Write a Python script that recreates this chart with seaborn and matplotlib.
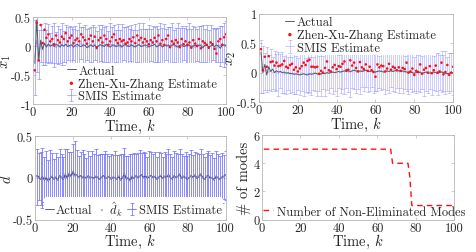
import numpy as np
import pandas as pd
import matplotlib
matplotlib.use('Agg')
import matplotlib.pyplot as plt
import seaborn as sns

# ---- data ----
x1_actual = [-0.30, 0.45, -0.25, 0.10, -0.06, 0.05, -0.02, 0.03, 0.00, 0.02,
             -0.01, 0.03, 0.01, -0.02, 0.02, 0.00, 0.03, -0.01, 0.01, 0.02,
             -0.02, 0.01, 0.03, 0.00, -0.01, 0.02, 0.01, -0.03, 0.00, 0.02,
             -0.01, 0.01, -0.02, 0.00, 0.02, 0.01, -0.01, 0.03, 0.00, -0.02,
             0.01, 0.02, -0.01, 0.00, 0.02, -0.02, 0.01, 0.03, 0.00, -0.01,
             0.02, 0.00, -0.02, 0.01, 0.02, -0.01, 0.00, 0.02, 0.01, -0.02,
             0.00, 0.01, 0.03, -0.01, 0.00, 0.02, -0.02, 0.01, 0.00, 0.02,
             -0.01, 0.01, 0.03, 0.00, -0.02, 0.01, 0.02, -0.01, 0.00, 0.02,
             0.01, -0.02, 0.00, 0.01, -0.01, 0.02, 0.00, -0.03, 0.01, 0.02,
             -0.02, 0.00, 0.01, -0.01, 0.02, 0.00, -0.04, 0.01, 0.02, 0.00]
x1_zxz = [-0.42, 0.40, -0.25, 0.36, 0.05, 0.28, 0.14, 0.20, 0.08, 0.12,
          0.03, 0.18, 0.10, 0.06, 0.16, 0.12, 0.22, 0.08, 0.14, 0.18,
          0.05, 0.10, 0.13, 0.08, 0.20, 0.15, 0.10, 0.04, 0.12, 0.18,
          0.08, 0.16, -0.03, 0.10, 0.14, 0.06, 0.18, 0.12, 0.02, 0.08,
          0.15, 0.20, 0.10, 0.05, 0.12, 0.08, 0.10, 0.04, 0.06, 0.12,
          0.08, 0.15, 0.05, 0.18, 0.10, 0.14, 0.06, 0.12, 0.08, 0.03,
          0.10, 0.06, 0.14, 0.08, 0.18, 0.04, 0.10, 0.02, 0.12, 0.18,
          -0.02, 0.08, 0.04, 0.10, 0.06, -0.02, 0.12, 0.03, 0.08, 0.02,
          0.06, -0.03, 0.10, 0.04, 0.00, 0.12, -0.04, 0.08, 0.05, 0.02,
          -0.03, 0.06, 0.03, -0.05, -0.13, 0.08, 0.12, 0.02, 0.15, 0.20]
x1_smis = [-0.20, 0.10, -0.15, 0.05, -0.02, 0.03, 0.00, 0.04, -0.02, 0.02,
           0.01, -0.03, 0.02, 0.00, 0.03, -0.01, 0.02, 0.04, -0.02, 0.01,
           0.03, 0.00, -0.02, 0.02, 0.05, -0.01, 0.01, 0.03, -0.03, 0.02,
           0.00, 0.04, -0.06, 0.01, 0.02, -0.02, 0.03, 0.00, -0.01, 0.04,
           0.02, -0.01, 0.00, 0.03, -0.02, 0.01, 0.04, 0.00, -0.01, 0.02,
           0.03, -0.02, 0.01, 0.00, 0.04, -0.01, 0.02, 0.00, -0.03, 0.01,
           0.02, 0.00, 0.03, -0.02, 0.01, 0.04, -0.01, 0.00, 0.02, -0.02,
           0.01, 0.03, 0.00, -0.02, 0.02, 0.01, -0.01, 0.03, 0.00, -0.02,
           0.02, 0.00, 0.01, -0.03, 0.02, 0.00, 0.03, -0.01, 0.01, 0.02,
           -0.02, 0.00, 0.03, -0.04, -0.06, 0.02, 0.00, 0.04, 0.01, 0.03]
x1_err = [0.65, 0.55, 0.42, 0.33, 0.30, 0.36, 0.28, 0.34, 0.25, 0.32,
          0.38, 0.27, 0.33, 0.30, 0.36, 0.26, 0.34, 0.29, 0.37, 0.31,
          0.27, 0.35, 0.30, 0.38, 0.28, 0.33, 0.36, 0.27, 0.34, 0.30,
          0.37, 0.29, 0.32, 0.35, 0.28, 0.38, 0.30, 0.34, 0.27, 0.36,
          0.31, 0.38, 0.28, 0.35, 0.30, 0.37, 0.29, 0.33, 0.36, 0.28,
          0.34, 0.30, 0.37, 0.27, 0.35, 0.31, 0.38, 0.29, 0.33, 0.36,
          0.28, 0.34, 0.30, 0.37, 0.29, 0.35, 0.32, 0.38, 0.27, 0.34,
          0.31, 0.36, 0.28, 0.33, 0.37, 0.30, 0.35, 0.28, 0.34, 0.31,
          0.37, 0.29, 0.33, 0.36, 0.28, 0.34, 0.31, 0.38, 0.29, 0.35,
          0.30, 0.36, 0.28, 0.33, 0.37, 0.29, 0.34, 0.31, 0.38, 0.40]

x2_actual = [0.35, 0.00, 0.14, -0.04, 0.10, 0.02, 0.06, 0.00, 0.03, 0.01,
             0.02, 0.00, 0.01, -0.01, 0.00, -0.02, -0.01, -0.03, -0.02, -0.03,
             -0.04, -0.03, -0.02, -0.03, -0.04, -0.02, -0.03, -0.02, -0.01, -0.02,
             -0.03, -0.02, -0.01, -0.02, 0.00, -0.01, 0.00, 0.01, 0.00, 0.01,
             0.02, 0.01, 0.02, 0.03, 0.02, 0.03, 0.02, 0.03, 0.04, 0.03,
             0.02, 0.03, 0.02, 0.03, 0.04, 0.03, 0.02, 0.03, 0.02, 0.01,
             0.02, 0.03, 0.02, 0.01, 0.02, 0.03, 0.02, 0.03, 0.02, 0.03,
             0.04, 0.03, 0.02, 0.03, 0.02, 0.01, 0.00, 0.01, 0.00, -0.01,
             0.00, 0.01, 0.00, -0.01, 0.00, 0.01, 0.00, -0.01, 0.00, 0.01,
             0.00, -0.01, 0.00, 0.01, 0.00, -0.01, -0.02, -0.01, 0.00, 0.00]
x2_zxz = [0.40, 0.04, 0.27, 0.10, 0.28, 0.18, 0.19, 0.12, 0.17, 0.11,
          0.12, 0.14, 0.20, 0.10, 0.08, 0.13, 0.15, 0.05, 0.09, 0.02,
          0.07, 0.11, 0.17, 0.13, 0.20, 0.22, 0.10, 0.10, 0.09, 0.10,
          -0.02, 0.03, 0.00, 0.08, 0.19, 0.04, 0.02, 0.09, 0.13, 0.06,
          0.11, 0.10, 0.15, 0.19, 0.04, 0.05, 0.21, 0.12, 0.17, 0.08,
          0.02, 0.18, 0.09, 0.06, 0.14, 0.03, 0.10, 0.04, 0.01, -0.07,
          0.14, 0.09, 0.12, 0.11, 0.02, 0.07, 0.15, 0.05, 0.10, 0.08,
          0.04, 0.09, 0.03, 0.08, 0.06, 0.17, 0.00, 0.02, 0.07, -0.04,
          0.03, 0.01, 0.14, -0.02, 0.05, 0.08, 0.00, 0.11, -0.01, 0.04,
          0.12, 0.00, 0.02, 0.17, -0.03, 0.01, 0.13, -0.04, 0.00, 0.10]
x2_smis = [0.10, 0.06, 0.02, 0.05, 0.00, 0.04, -0.01, 0.03, 0.01, -0.02,
           0.02, 0.00, -0.03, 0.01, -0.02, 0.00, -0.03, -0.01, -0.04, -0.02,
           -0.03, 0.00, -0.02, -0.04, -0.01, -0.03, 0.00, -0.02, 0.01, -0.03,
           -0.01, -0.04, 0.00, -0.02, 0.01, -0.01, 0.02, 0.00, 0.01, -0.01,
           0.02, 0.00, 0.03, 0.01, 0.04, 0.02, 0.00, 0.03, 0.05, 0.01,
           0.03, 0.01, 0.04, 0.02, 0.05, 0.03, 0.01, 0.04, 0.02, 0.00,
           0.03, 0.01, 0.04, 0.02, 0.00, 0.03, 0.01, 0.04, 0.02, 0.05,
           0.03, 0.01, 0.04, 0.02, 0.00, 0.03, -0.01, 0.02, 0.00, -0.02,
           0.01, -0.01, 0.02, 0.00, -0.02, 0.01, -0.01, 0.02, 0.00, -0.01,
           0.01, -0.02, 0.00, 0.02, -0.01, 0.00, -0.03, -0.01, 0.01, -0.02]
x2_err = [0.45, 0.40, 0.32, 0.38, 0.30, 0.36, 0.27, 0.34, 0.31, 0.37,
          0.29, 0.35, 0.32, 0.38, 0.28, 0.34, 0.30, 0.36, 0.33, 0.27,
          0.35, 0.31, 0.37, 0.29, 0.34, 0.30, 0.38, 0.28, 0.33, 0.36,
          0.30, 0.35, 0.28, 0.37, 0.31, 0.34, 0.29, 0.36, 0.32, 0.38,
          0.28, 0.34, 0.31, 0.37, 0.30, 0.35, 0.42, 0.29, 0.33, 0.36,
          0.31, 0.38, 0.28, 0.34, 0.30, 0.36, 0.33, 0.29, 0.37, 0.31,
          0.35, 0.28, 0.34, 0.30, 0.37, 0.32, 0.36, 0.29, 0.33, 0.38,
          0.30, 0.35, 0.31, 0.37, 0.28, 0.34, 0.36, 0.30, 0.33, 0.29,
          0.36, 0.31, 0.35, 0.28, 0.37, 0.32, 0.34, 0.30, 0.38, 0.29,
          0.33, 0.36, 0.30, 0.35, 0.31, 0.37, 0.29, 0.34, 0.32, 0.36]

d_actual = [0.03, 0.01, -0.02, 0.02, -0.03, 0.00, -0.04, -0.01, 0.02, -0.02,
            0.01, -0.03, 0.03, 0.00, -0.02, 0.05, -0.01, 0.06, 0.02, 0.08,
            0.03, 0.04, 0.01, 0.03, 0.00, 0.02, -0.01, 0.03, 0.00, 0.01,
            -0.01, 0.02, 0.00, -0.02, 0.01, 0.03, -0.01, 0.00, 0.02, -0.02,
            0.01, 0.00, -0.02, 0.02, -0.03, 0.01, 0.05, -0.02, 0.00, -0.04,
            0.02, -0.01, 0.03, 0.00, 0.02, 0.04, 0.00, 0.03, -0.01, 0.02,
            0.03, 0.00, 0.02, -0.02, 0.01, 0.03, -0.01, 0.02, 0.00, 0.04,
            0.01, -0.02, 0.03, 0.00, 0.02, 0.05, -0.01, 0.02, 0.00, -0.02,
            0.01, 0.03, 0.00, 0.04, -0.01, 0.02, 0.05, 0.00, -0.02, 0.02,
            0.03, -0.01, 0.00, -0.03, 0.02, 0.00, -0.02, 0.01, 0.02, 0.04]
d_hat = [0.02, 0.00, -0.01, 0.01, -0.02, 0.01, -0.03, 0.00, 0.02, -0.01,
         0.01, -0.02, 0.02, 0.01, -0.01, 0.04, 0.00, 0.05, 0.02, 0.07,
         0.03, 0.03, 0.01, 0.02, 0.00, 0.02, 0.00, 0.02, 0.00, 0.01,
         -0.01, 0.02, 0.01, -0.01, 0.01, 0.02, 0.00, 0.00, 0.02, -0.01,
         0.01, 0.00, -0.01, 0.02, -0.02, 0.01, 0.04, -0.01, 0.00, -0.03,
         0.02, 0.00, 0.02, 0.00, 0.02, 0.03, 0.00, 0.03, 0.00, 0.02,
         0.02, 0.00, 0.02, -0.01, 0.01, 0.03, 0.00, 0.02, 0.00, 0.03,
         0.01, -0.01, 0.02, 0.00, 0.02, 0.04, 0.00, 0.02, 0.00, -0.01,
         0.01, 0.02, 0.00, 0.03, 0.00, 0.02, 0.04, 0.00, -0.01, 0.02,
         0.02, -0.01, 0.00, -0.02, 0.02, 0.00, -0.01, 0.01, 0.02, 0.03]
d_smis = [0.01, 0.02, -0.01, 0.00, -0.02, 0.01, -0.03, 0.00, 0.01, -0.01,
          0.00, -0.02, 0.02, 0.01, -0.01, 0.03, 0.00, 0.04, 0.01, 0.06,
          0.02, 0.03, 0.00, 0.02, 0.01, 0.01, 0.00, 0.02, -0.01, 0.01,
          0.00, 0.01, 0.01, -0.01, 0.00, 0.02, 0.00, 0.01, 0.01, -0.01,
          0.00, 0.01, -0.01, 0.01, -0.02, 0.00, 0.03, -0.01, 0.01, -0.03,
          0.01, 0.00, 0.02, 0.01, 0.01, 0.03, 0.01, 0.02, 0.00, 0.01,
          0.02, 0.01, 0.01, -0.01, 0.00, 0.02, 0.00, 0.01, 0.01, 0.03,
          0.00, -0.01, 0.02, 0.01, 0.01, 0.03, 0.00, 0.01, 0.01, -0.01,
          0.00, 0.02, 0.01, 0.03, 0.00, 0.01, 0.03, 0.01, -0.01, 0.01,
          0.02, 0.00, 0.01, -0.02, 0.01, 0.01, -0.01, 0.00, 0.01, 0.03]
d_err = [0.34, 0.28, 0.32, 0.36, 0.27, 0.31, 0.25, 0.33, 0.29, 0.24,
         0.30, 0.27, 0.33, 0.28, 0.26, 0.31, 0.35, 0.27, 0.30, 0.34,
         0.42, 0.30, 0.26, 0.29, 0.32, 0.28, 0.24, 0.30, 0.27, 0.31,
         0.28, 0.33, 0.26, 0.30, 0.29, 0.27, 0.32, 0.28, 0.25, 0.30,
         0.27, 0.31, 0.28, 0.26, 0.30, 0.29, 0.33, 0.27, 0.25, 0.31,
         0.28, 0.30, 0.26, 0.29, 0.32, 0.27, 0.30, 0.28, 0.25, 0.31,
         0.29, 0.27, 0.30, 0.26, 0.31, 0.28, 0.25, 0.30, 0.27, 0.32,
         0.28, 0.26, 0.30, 0.29, 0.27, 0.31, 0.28, 0.25, 0.30, 0.27,
         0.29, 0.31, 0.26, 0.28, 0.30, 0.27, 0.32, 0.28, 0.26, 0.29,
         0.30, 0.27, 0.29, 0.26, 0.31, 0.28, 0.27, 0.30, 0.26, 0.29]

n_modes = [5] * 67 + [4] * 9 + [3] + [1] * 22

# ---- style ----
sns.set_style('white')
plt.rcParams['font.family'] = ['cmr10', 'DejaVu Serif']
plt.rcParams['mathtext.fontset'] = 'cm'
plt.rcParams['axes.formatter.use_mathtext'] = True

RED = '#ff1010'
BLUE = '#6c6cff'
GRAY = '#5a5a5a'
EDGE = '#b8b8b8'
TICK_FS = 9
LABEL_FS = 10.5
LEG_FS = 9

k = np.arange(1, 101)
x1_df = pd.DataFrame({'k': k, 'actual': x1_actual, 'zxz': x1_zxz, 'smis': x1_smis, 'err': x1_err})
x2_df = pd.DataFrame({'k': k, 'actual': x2_actual, 'zxz': x2_zxz, 'smis': x2_smis, 'err': x2_err})
d_df = pd.DataFrame({'k': k, 'actual': d_actual, 'hat': d_hat, 'smis': d_smis, 'err': d_err})
modes_df = pd.DataFrame({'k': np.arange(1, len(n_modes) + 1), 'modes': n_modes})

fig = plt.figure(figsize=(4.77, 2.53), dpi=100)
ax1 = fig.add_axes([0.069, 0.585, 0.405, 0.344])
ax2 = fig.add_axes([0.543, 0.593, 0.407, 0.348])
ax3 = fig.add_axes([0.073, 0.128, 0.400, 0.330])
ax4 = fig.add_axes([0.549, 0.128, 0.403, 0.334])


def style_axes(ax, yticks, ylabels, ylim):
    ax.set_xlim(0, 100)
    ax.set_ylim(*ylim)
    ax.set_xticks([0, 20, 40, 60, 80, 100])
    ax.set_xticklabels(['0', '20', '40', '60', '80', '100'])
    ax.set_yticks(yticks)
    ax.set_yticklabels(ylabels)
    for sp in ax.spines.values():
        sp.set_color(EDGE)
        sp.set_linewidth(0.6)
    ax.tick_params(direction='in', length=2.5, width=0.5, color=EDGE, pad=1.5,
                   labelsize=TICK_FS, labelcolor='#262626',
                   top=True, right=True, bottom=True, left=True)
    ax.set_xlabel('Time, $k$', fontsize=LABEL_FS, labelpad=-1)


def state_panel(ax, df, alpha):
    ax.errorbar(df['k'], df['smis'], yerr=df['err'], color=BLUE, alpha=alpha,
                lw=0.6, elinewidth=0.6, capsize=1.5, capthick=0.6,
                label='SMIS Estimate', zorder=2)
    sns.lineplot(data=df, x='k', y='actual', ax=ax, color=GRAY, lw=0.7,
                 label='Actual', zorder=3)
    sns.scatterplot(data=df, x='k', y='zxz', ax=ax, color=RED, s=3.5, marker='o',
                    edgecolor='none', label='Zhen-Xu-Zhang Estimate', zorder=4)


def add_legend(ax, order, **kw):
    h, l = ax.get_legend_handles_labels()
    hd = dict(zip(l, h))
    leg = ax.legend([hd[o] for o in order], order, frameon=True, facecolor='white',
                    edgecolor='none', framealpha=1, fontsize=LEG_FS,
                    handlelength=0.7, handletextpad=0.2, borderpad=0.1,
                    borderaxespad=0.0, markerscale=1.3, **kw)
    leg.set_zorder(10)
    return leg


state_panel(ax1, x1_df, 0.6)
style_axes(ax1, [-1, -0.5, 0, 0.5], ['-1', '-0.5', '0', '0.5'], (-1, 0.5))
ax1.set_ylabel('$x_1$', fontsize=LABEL_FS, labelpad=-2)

state_panel(ax2, x2_df, 0.4)
style_axes(ax2, [-0.5, 0, 0.5, 1], ['-0.5', '0', '0.5', '1'], (-0.5, 1))
ax2.set_ylabel('$x_2$', fontsize=LABEL_FS, labelpad=-1)

# disturbance panel
ax3.errorbar(d_df['k'], d_df['smis'], yerr=d_df['err'], color=BLUE, alpha=0.85,
             lw=0.7, elinewidth=0.65, capsize=1.5, capthick=0.6,
             label='SMIS Estimate', zorder=2)
sns.lineplot(data=d_df, x='k', y='actual', ax=ax3, color='#404070', lw=0.6,
             label='Actual', zorder=3)
sns.scatterplot(data=d_df, x='k', y='hat', ax=ax3, color='#a0a0a0', s=1.2,
                edgecolor='none', label=r'$\hat{d}_k$', zorder=3)
style_axes(ax3, [-0.5, 0, 0.5], ['-0.5', '0', '0.5'], (-0.5, 0.5))
ax3.set_ylabel('$d$', fontsize=LABEL_FS, labelpad=-1)

# modes panel
sns.lineplot(data=modes_df, x='k', y='modes', ax=ax4, color=RED, lw=1.0,
             linestyle=(0, (4, 3)), label='Number of Non-Eliminated Modes')
style_axes(ax4, [0, 2, 4, 6], ['0', '2', '4', '6'], (0, 6))
ax4.set_ylabel('# of modes', fontsize=LABEL_FS, labelpad=2)

# legends
order = ['Actual', 'Zhen-Xu-Zhang Estimate', 'SMIS Estimate']
add_legend(ax1, order, loc='lower left', bbox_to_anchor=(0.17, 0.005), labelspacing=0.05)
add_legend(ax2, order, loc='upper left', bbox_to_anchor=(0.13, 0.99), labelspacing=0.05)
add_legend(ax3, ['Actual', r'$\hat{d}_k$', 'SMIS Estimate'], loc='lower right',
           bbox_to_anchor=(0.985, 0.01), ncol=3, columnspacing=0.4)

ax4.legend(loc='lower left', bbox_to_anchor=(0.0, 0.01), frameon=False, fontsize=LEG_FS,
           handlelength=0.8, handletextpad=0.3, borderpad=0.1, borderaxespad=0.0)

fig.savefig('out.png', dpi=100)
